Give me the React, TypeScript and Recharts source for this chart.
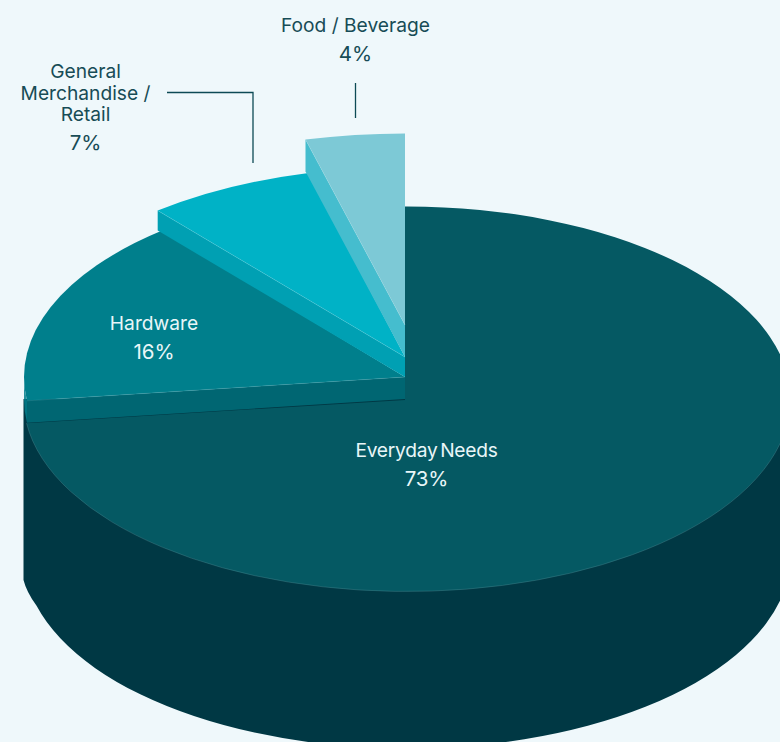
import React from 'react';
import { PieChart, Pie } from 'recharts';

// Share of sites by category, clockwise from twelve o'clock
const SLICE_NAMES = ['Everyday Needs', 'Hardware', 'General Merchandise / Retail', 'Food / Beverage'];
const SLICE_SHARES = [73, 16, 7, 4];

const WIDTH = 780;
const HEIGHT = 742;
const FONT = 'Inter, "Liberation Sans", sans-serif';

// Flattened pie geometry
const CENTER_X = 407;
const CENTER_Y = 399;
const RADIUS = 384;
const APEX_X = 405;
const BODY_DEPTH = 157;

// Each slice is pulled up off the base by its own amount
const SLICE_RADIUS = [383.5, 381, 388, 400];
const SLICE_RADIUS_Y = [192.5, 190, 190, 191.5];
const SLICE_SHIFT_X = [0, -2, -2, -2];
const SLICE_LIFT = [0, 22, 42, 74];
const SLICE_WALL = [0, 22, 20, 32];

const FACE_COLORS = ['#055963', '#007f8c', '#00b2c6', '#7dc9d6'];
const WALL_COLORS = ['#003844', '#006672', '#00a0b3', '#45bdce'];
const SEAM_COLORS = ['#6fa6ad', '#4aa6b0', '#66d0dc', '#a6dde6'];

const BACKGROUND = '#eff8fb';
const DARK_TEXT = '#174c56';
const LIGHT_TEXT = '#e9f6f8';
const LEADER_COLOR = '#0d4a55';

// Text placement per slice
const LABEL_X = [426.5, 154, 85.5, 355.5];
const LABEL_Y = [457, 330, 78, 32];
const LABEL_LINES = [['Everyday Needs'], ['Hardware'], ['General', 'Merchandise /', 'Retail'], ['Food / Beverage']];
const LABEL_COLORS = [LIGHT_TEXT, LIGHT_TEXT, DARK_TEXT, DARK_TEXT];
const LABEL_WORD_GAP = [-2.5, 0, 0, 0];
const LABEL_TRACKING = [-0.25, 0, 0, 0];
const LABEL_SIZE = 19.2;
const PERCENT_SIZE = 20.5;
const LINE_STEP = 21.5;
const PERCENT_STEP = 29;

const LEADERS: Record<number, string> = {
  2: 'M167 92.5H253V163',
  3: 'M355.5 83V118',
};

const sliceData = SLICE_NAMES.map((name, slot) => ({ name, share: SLICE_SHARES[slot], slot }));

const onEllipse = (cx: number, cy: number, rx: number, ry: number, angle: number) => {
  const rad = (angle * Math.PI) / 180;
  return { x: cx + rx * Math.cos(rad), y: cy - ry * Math.sin(rad) };
};

// The round side of the base, from the far left round the front to the far right
const bodyPath = (cx: number, cy: number, rx: number, ry: number, depth: number) => {
  const bottom = cy + depth;
  const shoulder = onEllipse(cx, bottom, rx, ry, 195);
  const right = cx + rx;
  const left = cx - rx;
  return [
    `M${left} ${cy}`,
    `V${bottom + 24}`,
    `Q${left + 3} ${bottom + 36} ${shoulder.x} ${shoulder.y}`,
    `A${rx} ${ry} 0 0 0 ${right} ${bottom}`,
    `V${cy}`,
    'Z',
  ].join(' ');
};

const SliceShape = (props: any) => {
  const { cx, cy, startAngle, endAngle, slot } = props;
  const rx = SLICE_RADIUS[slot];
  const ry = SLICE_RADIUS_Y[slot];
  const sliceCx = cx + SLICE_SHIFT_X[slot];
  const sliceCy = cy - SLICE_LIFT[slot];
  const apexY = sliceCy + (slot === 0 ? 1 : 0);
  const from = onEllipse(sliceCx, sliceCy, rx, ry, startAngle);
  const to = onEllipse(sliceCx, sliceCy, rx, ry, endAngle);
  const large = Math.abs(startAngle - endAngle) > 180 ? 1 : 0;
  const arc = `A${rx} ${ry} 0 ${large} 1 ${to.x} ${to.y}`;
  const wall = SLICE_WALL[slot];
  // Part of the outer rim faces the viewer when a raised slice wraps past the far left
  const showsRim = wall > 0 && startAngle > -180 && endAngle < -180;
  const leftX = sliceCx - rx;
  const frontRight = sliceCx + rx;

  return (
    <g>
      {slot === 0 && <path d={bodyPath(sliceCx, sliceCy, rx, ry, BODY_DEPTH)} fill={WALL_COLORS[0]} />}
      {showsRim && (
        <path
          d={`M${from.x} ${from.y}A${rx} ${ry} 0 0 1 ${leftX} ${sliceCy}V${sliceCy + wall}A${rx} ${ry} 0 0 0 ${from.x} ${from.y + wall}Z`}
          fill={FACE_COLORS[slot]}
          fillOpacity={0.85}
        />
      )}
      {wall > 0 && (
        <path
          d={`M${APEX_X} ${apexY}L${from.x} ${from.y}V${from.y + wall}L${APEX_X} ${apexY + wall}Z`}
          fill={WALL_COLORS[slot]}
        />
      )}
      <path
        d={`M${APEX_X} ${apexY}${slot === 0 ? `V${from.y}` : ''}L${from.x} ${from.y}${arc}Z`}
        fill={FACE_COLORS[slot]}
      />
      {slot === 0 ? (
        <path
          d={`M${frontRight} ${sliceCy}A${rx} ${ry} 0 0 1 ${to.x} ${to.y}`}
          fill="none"
          stroke={SEAM_COLORS[0]}
          strokeWidth={0.6}
          strokeOpacity={0.45}
        />
      ) : (
        <path
          d={`M${APEX_X} ${apexY}L${from.x} ${from.y}`}
          fill="none"
          stroke={SEAM_COLORS[slot]}
          strokeWidth={0.6}
          strokeOpacity={0.5}
        />
      )}
    </g>
  );
};

const SliceLabel = (props: any) => {
  const slot = props.slot;
  const lines = LABEL_LINES[slot];
  const x = LABEL_X[slot];
  const y = LABEL_Y[slot];
  const color = LABEL_COLORS[slot];
  const percentY = y + (lines.length - 1) * LINE_STEP + PERCENT_STEP;
  return (
    <g>
      {LEADERS[slot] && <path d={LEADERS[slot]} fill="none" stroke={LEADER_COLOR} strokeWidth={1.3} />}
      <text
        x={x}
        textAnchor="middle"
        fontFamily={FONT}
        fontSize={LABEL_SIZE}
        fill={color}
        wordSpacing={LABEL_WORD_GAP[slot]}
        letterSpacing={LABEL_TRACKING[slot]}
      >
        {lines.map((line, i) => (
          <tspan key={line} x={x} y={y + i * LINE_STEP}>
            {line}
          </tspan>
        ))}
        <tspan x={x} y={percentY} fontSize={PERCENT_SIZE}>
          {`${SLICE_SHARES[slot]}%`}
        </tspan>
      </text>
    </g>
  );
};

export default function App() {
  return (
    <div
      style={{
        position: 'absolute',
        left: 0,
        top: 0,
        width: WIDTH,
        height: HEIGHT,
        overflow: 'hidden',
        background: BACKGROUND,
      }}
    >
      <PieChart width={WIDTH} height={HEIGHT} margin={{ top: 0, right: 0, bottom: 0, left: 0 }}>
        <Pie
          data={sliceData}
          dataKey="share"
          nameKey="name"
          cx={CENTER_X}
          cy={CENTER_Y}
          innerRadius={0}
          outerRadius={RADIUS}
          startAngle={90}
          endAngle={-270}
          stroke="none"
          shape={SliceShape}
          label={SliceLabel}
          labelLine={false}
          isAnimationActive={false}
        />
      </PieChart>
    </div>
  );
}
